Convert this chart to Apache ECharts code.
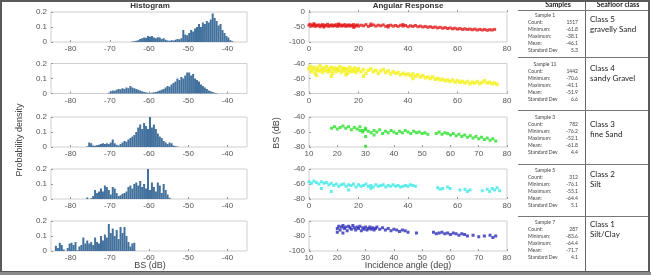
<!DOCTYPE html>
<html>
<head>
<meta charset="utf-8">
<script src="https://cdn.jsdelivr.net/npm/echarts@6/dist/echarts.min.js"></script>
<style>
html, body { margin: 0; padding: 0; background: #fff; }
#chart { width: 651px; height: 275px; }
</style>
</head>
<body>
<div id="chart"></div>
<script>
// histogram densities, 0.5 dB bins, first bin edge in binStart
let binStart = [-64.5, -70.5, -76, -76, -84];
let hist1 = [0.003, 0.005, 0.008, 0.012, 0.02, 0.025, 0.03, 0.028, 0.04, 0.035, 0.04, 0.03, 0.025, 0.032,
  0.03, 0.02, 0.025, 0.015, 0.01, 0.008, 0.012, 0.01, 0.015, 0.02, 0.018, 0.025, 0.08, 0.05, 0.045, 0.06,
  0.08, 0.07, 0.09, 0.1, 0.12, 0.1, 0.13, 0.12, 0.14, 0.13, 0.15, 0.19, 0.16, 0.14, 0.11, 0.12, 0.08, 0.06,
  0.04, 0.03, 0.012, 0.005];
let hist2 = [0.005, 0.015, 0.02, 0.018, 0.025, 0.03, 0.028, 0.035, 0.03, 0.04, 0.035, 0.05, 0.04, 0.035,
  0.03, 0.025, 0.02, 0.015, 0.01, 0.008, 0.005, 0.004, 0.006, 0.008, 0.01, 0.015, 0.02, 0.025, 0.03, 0.04,
  0.05, 0.045, 0.06, 0.07, 0.08, 0.1, 0.09, 0.11, 0.1, 0.12, 0.14, 0.14, 0.12, 0.13, 0.1, 0.09, 0.08, 0.06,
  0.05, 0.04, 0.03, 0.02, 0.015, 0.01, 0.005, 0.003];
let hist3 = [0.004, 0.03, 0.025, 0.01, 0.008, 0.012, 0.015, 0.02, 0.025, 0.02, 0.025, 0.02, 0.03, 0.05,
  0.025, 0.015, 0.01, 0.02, 0.03, 0.04, 0.035, 0.05, 0.06, 0.07, 0.08, 0.1, 0.13, 0.15, 0.12, 0.16, 0.14,
  0.12, 0.2, 0.13, 0.15, 0.12, 0.09, 0.07, 0.06, 0.04, 0.03, 0.02, 0.03, 0.025, 0.01, 0.005, 0.003];
let hist4 = [0.01, 0, 0.005, 0.02, 0.06, 0.04, 0.05, 0.07, 0.05, 0.09, 0.08, 0.06, 0.03, 0.08, 0.07, 0.04,
  0.02, 0.025, 0.035, 0.04, 0.05, 0.08, 0.09, 0.07, 0.1, 0.11, 0.09, 0.12, 0.08, 0.1, 0.07, 0.2, 0.06, 0.11,
  0.08, 0.05, 0.11, 0.09, 0.04, 0.1, 0.06, 0.03, 0.008];
let hist5 = [0.035, 0.02, 0.055, 0.04, 0.01, 0, 0.02, 0.05, 0.055, 0.04, 0.06, 0.005, 0.03, 0.04, 0.09,
  0.05, 0.07, 0.05, 0.06, 0.04, 0.09, 0.06, 0.05, 0.1, 0.07, 0.11, 0.09, 0.18, 0.12, 0.15, 0.1, 0.14, 0.08,
  0.16, 0.12, 0.16, 0.1, 0.06, 0.03, 0.05, 0.055];
let histTicks = [-80, -70, -60, -50, -40];

// angular response samples [incidence angle, BS]
let redPts = [[0,-44],[0.5,-41],[1,-47],[1.5,-45],[2,-42],[2.5,-48],[3,-44],[3.5,-46],[4,-43],[4.5,-49],
  [5,-45],[5.5,-42],[6,-47],[6.5,-44],[7,-46],[7.5,-41],[8,-48],[8.5,-45],[9,-43],[9.5,-47],[10,-44],
  [10.5,-46],[11,-42],[11.5,-48],[12,-45],[12.5,-43],[13,-47],[13.5,-44],[14,-46],[14.5,-42],[15,-48],
  [15.5,-45],[16,-43],[16.5,-47],[17,-44],[17.5,-46],[18,-42],[18.5,-49],[19,-45],[19.5,-43],[20,-47],
  [21,-44],[22,-46],[23,-42],[24,-48],[25,-45],[26,-43],[27,-47],[28,-44],[29,-46],[30,-43],[31,-48],
  [32,-45],[33,-44],[34,-47],[35,-45],[36,-48],[37,-44],[38,-47],[39,-45],[40,-49],[41,-46],[42,-48],
  [43,-45],[44,-49],[45,-47],[46,-50],[47,-48],[48,-51],[49,-49],[50,-52],[51,-50],[52,-53],[53,-51],
  [54,-54],[55,-52],[56,-55],[57,-53],[58,-56],[59,-54],[60,-57],[61,-55],[62,-58],[63,-56],[64,-58],
  [65,-57],[66,-59],[67,-57],[68,-60],[69,-58],[70,-60],[71,-58],[72,-61],[73,-59],[74,-60],[75,-58],
  [2,-39],[6,-50],[12,-40],[18,-51],[25,-40],[32,-50],[38,-42]];
let yellowPts = [[0,-47],[0.5,-44],[1,-51],[1.5,-48],[2,-45],[2.5,-53],[3,-49],[3.5,-46],[4,-50],[4.5,-43],
  [5,-48],[5.5,-52],[6,-46],[6.5,-49],[7,-44],[7.5,-51],[8,-47],[8.5,-50],[9,-45],[9.5,-53],[10,-48],
  [10.5,-46],[11,-51],[11.5,-47],[12,-49],[12.5,-44],[13,-52],[13.5,-48],[14,-46],[14.5,-50],[15,-47],
  [15.5,-53],[16,-49],[16.5,-45],[17,-51],[17.5,-48],[18,-50],[18.5,-46],[19,-52],[19.5,-49],[20,-47],
  [21,-51],[22,-48],[23,-53],[24,-49],[25,-47],[26,-51],[27,-49],[28,-53],[29,-50],[30,-48],[31,-52],
  [32,-50],[33,-54],[34,-51],[35,-53],[36,-52],[37,-55],[38,-53],[39,-55],[40,-54],[41,-56],[42,-54],
  [43,-57],[44,-55],[45,-58],[46,-56],[47,-59],[48,-58],[49,-60],[50,-58],[51,-61],[52,-60],[53,-62],
  [54,-61],[55,-63],[56,-62],[57,-64],[58,-62],[59,-65],[60,-63],[61,-65],[62,-64],[63,-66],[64,-64],
  [65,-67],[66,-65],[67,-66],[68,-64],[69,-67],[70,-65],[71,-63],[72,-66],[73,-65],[74,-67],[75,-66],
  [76,-68],[3,-56],[9,-57],[15,-55],[22,-57],[42,-60]];
let greenPts = [[18,-55],[19,-53],[20,-56],[21,-54],[22,-52],[23,-55],[24,-53],[25,-57],[26,-54],[27,-56],
  [28,-53],[29,-58],[30,-55],[28,-58],[29,-60],[30,-57],[31,-59],[32,-61],[33,-58],[34,-60],[35,-57],
  [36,-62],[37,-59],[38,-61],[39,-58],[40,-60],[41,-62],[42,-59],[43,-61],[44,-58],[45,-60],[46,-62],
  [47,-59],[48,-61],[49,-60],[50,-62],[51,-61],[55,-62],[56,-60],[57,-63],[58,-61],[59,-62],[60,-64],
  [61,-62],[62,-65],[63,-63],[64,-66],[65,-64],[66,-67],[67,-65],[68,-68],[69,-66],[70,-69],[71,-67],
  [72,-70],[73,-68],[74,-71],[75,-69],[76,-72],[30,-66],[33,-64],[30,-79],[52,-63]];
let cyanPts = [[0,-57],[1,-59],[2,-56],[3,-58],[4,-60],[5,-57],[6,-59],[7,-58],[8,-61],[9,-59],[10,-62],
  [11,-60],[12,-63],[13,-61],[14,-60],[15,-63],[16,-61],[17,-62],[18,-60],[19,-64],[20,-61],[21,-63],
  [22,-62],[23,-60],[24,-63],[25,-62],[26,-64],[27,-61],[28,-63],[29,-62],[30,-61],[31,-64],[32,-62],
  [33,-63],[34,-61],[35,-63],[36,-62],[37,-64],[38,-63],[39,-62],[40,-63],[41,-61],[42,-62],[43,-63],
  [5,-66],[9,-70],[16,-68],[25,-66],[52,-65],[53,-67],[54,-66],[56,-64],[57,-66],[61,-68],[63,-67],
  [64,-70],[65,-68],[70,-69],[72,-67],[73,-70],[74,-66],[75,-68],[76,-65],[77,-69]];
let bluePts = [[20,-70],[20.5,-67],[21,-72],[21.5,-68],[22,-66],[22.5,-70],[23,-68],[23.5,-73],[24,-67],
  [24.5,-69],[25,-71],[25.5,-66],[26,-69],[26.5,-72],[27,-68],[27.5,-70],[28,-67],[28.5,-73],[29,-69],
  [29.5,-71],[30,-68],[30.5,-72],[31,-70],[31.5,-68],[32,-71],[32.5,-69],[33,-72],[33.5,-70],[34,-68],
  [35,-71],[36,-69],[37,-72],[38,-70],[39,-73],[40,-71],[41,-72],[42,-74],[43,-72],[44,-73],[45,-75],
  [20,-75],[22,-76],[48,-76],[54,-75],[55,-77],[56,-76],[57,-75],[58,-77],[59,-76],[60,-78],[61,-76],
  [62,-77],[63,-79],[64,-77],[65,-78],[66,-80],[68,-79],[70,-81],[72,-80],[74,-79],[75,-82],[76,-80]];

// axis ranges of the angular response panels
let angMin = [0, 0, 10, 0, 10];
let angStep = [20, 20, 10, 20, 10];
let bsMin = [-100, -80, -80, -80, -100];
let bsMax = [0, -40, -40, -40, -60];
let bsStep = [50, 20, 20, 20, 20];

// table
let sampleNames = ['Sample 1', 'Sample 11', 'Sample 3', 'Sample 5', 'Sample 7'];
let statNames = ['Count:', 'Minimum:', 'Maximum:', 'Mean:', 'Standard Dev'];
let counts = ['1517', '1442', '782', '312', '287'];
let minima = ['-61.8', '-70.6', '-76.2', '-76.1', '-83.6'];
let maxima = ['-38.1', '-41.1', '-52.1', '-55.1', '-64.4'];
let means = ['-46.1', '-51.9', '-61.8', '-64.4', '-71.7'];
let stdDevs = ['5.3', '6.6', '4.4', '5.1', '4.1'];
let classNames = ['Class 5', 'Class 4', 'Class 3', 'Class 2', 'Class 1'];
let classDescs = ['gravelly Sand', 'sandy Gravel', 'fine Sand', 'Silt', 'Silt/Clay'];

let hists = [hist1, hist2, hist3, hist4, hist5];
let scatters = [redPts, yellowPts, greenPts, cyanPts, bluePts];
let dotColors = ['#e41a1c', '#f4f01c', '#2be02b', '#3fe8e8', '#2c2cb8'];
let dotSizes = [3, 3.5, 3, 3, 3];

let rowTop = [12, 63.5, 117, 169, 221];
let labelFont = 'Liberation Sans, Arial, sans-serif';
let grid = [], xAxis = [], yAxis = [], series = [];

for (let i = 0; i < 5; i++) {
  // histogram panel
  grid.push({ left: 51, width: 196, top: rowTop[i], height: 30, show: true,
    borderColor: '#cfcfcf', borderWidth: 1 });
  xAxis.push({
    type: 'value', gridIndex: 2 * i, min: -85, max: -35,
    splitLine: { show: false }, axisLine: { show: false },
    axisTick: { inside: true, length: 2, lineStyle: { color: '#999' }, customValues: histTicks },
    axisLabel: { fontSize: 8, color: '#555', margin: 3, fontFamily: labelFont, customValues: histTicks }
  });
  yAxis.push({
    type: 'value', gridIndex: 2 * i, min: 0, max: 0.2, interval: 0.1,
    splitLine: { show: false }, axisLine: { show: false },
    axisTick: { inside: true, length: 2, lineStyle: { color: '#999' } },
    axisLabel: { fontSize: 8, color: '#555', margin: 4, fontFamily: labelFont,
      formatter: v => v === 0 ? '0' : v.toFixed(1) }
  });
  series.push({
    type: 'bar', xAxisIndex: 2 * i, yAxisIndex: 2 * i, barWidth: 2, silent: true,
    itemStyle: { color: '#42719d' },
    data: hists[i].map((v, k) => [binStart[i] + k * 0.5 + 0.25, v])
  });

  // angular response panel
  grid.push({ left: 309, width: 198, top: rowTop[i], height: 30, show: true,
    borderColor: '#cfcfcf', borderWidth: 1 });
  xAxis.push({
    type: 'value', gridIndex: 2 * i + 1, min: angMin[i], max: 80, interval: angStep[i],
    splitLine: { show: false }, axisLine: { show: false },
    axisTick: { inside: true, length: 2, lineStyle: { color: '#999' } },
    axisLabel: { fontSize: 8, color: '#555', margin: 3, fontFamily: labelFont }
  });
  yAxis.push({
    type: 'value', gridIndex: 2 * i + 1, min: bsMin[i], max: bsMax[i], interval: bsStep[i],
    splitLine: { show: false }, axisLine: { show: false },
    axisTick: { inside: true, length: 2, lineStyle: { color: '#999' } },
    axisLabel: { fontSize: 8, color: '#555', margin: 4, fontFamily: labelFont }
  });
  series.push({
    type: 'scatter', xAxisIndex: 2 * i + 1, yAxisIndex: 2 * i + 1, silent: true,
    symbol: 'rect', symbolSize: dotSizes[i], itemStyle: { color: dotColors[i] },
    data: scatters[i]
  });
}

let graphic = [
  { type: 'rect', shape: { x: 1, y: 1, width: 648, height: 271 }, z: 100,
    style: { fill: null, stroke: '#5a5a5a', lineWidth: 2 } },
  { type: 'rect', shape: { x: 0, y: 272, width: 651, height: 3 }, z: 100, style: { fill: '#8a8a8a' } },
  { type: 'text', x: 150, y: 6, style: { text: 'Histogram', font: 'bold 8px ' + labelFont,
    fill: '#333', textAlign: 'center', textVerticalAlign: 'middle' } },
  { type: 'text', x: 408, y: 6, style: { text: 'Angular Response', font: 'bold 8px ' + labelFont,
    fill: '#333', textAlign: 'center', textVerticalAlign: 'middle' } },
  { type: 'text', x: 150, y: 266, style: { text: 'BS (dB)', font: '9px ' + labelFont,
    fill: '#444', textAlign: 'center', textVerticalAlign: 'middle' } },
  { type: 'text', x: 408, y: 266, style: { text: 'Incidence angle (deg)', font: '9px ' + labelFont,
    fill: '#444', textAlign: 'center', textVerticalAlign: 'middle' } },
  { type: 'text', x: 20, y: 140, rotation: Math.PI / 2, style: { text: 'Probability density',
    font: '9px ' + labelFont, fill: '#444', textAlign: 'center', textVerticalAlign: 'middle' } },
  { type: 'text', x: 277, y: 133, rotation: Math.PI / 2, style: { text: 'BS (dB)',
    font: '9px ' + labelFont, fill: '#444', textAlign: 'center', textVerticalAlign: 'middle' } },
  { type: 'text', x: 558, y: 5, style: { text: 'Samples', font: 'bold 7px Lato, sans-serif',
    fill: '#222', textAlign: 'center', textVerticalAlign: 'middle' } },
  { type: 'text', x: 618, y: 5, style: { text: 'Seafloor class', font: 'bold 7px Lato, sans-serif',
    fill: '#222', textAlign: 'center', textVerticalAlign: 'middle' } },
  { type: 'line', shape: { x1: 585.5, y1: 0, x2: 585.5, y2: 272 }, style: { stroke: '#666', lineWidth: 1 } }
];
[10.5, 57.5, 110.5, 164.5, 216.5].forEach(function(y) {
  graphic.push({ type: 'line', shape: { x1: 518, y1: y, x2: 650, y2: y },
    style: { stroke: '#777', lineWidth: 1 } });
});

let blockTop = [15, 64, 117, 170, 222];
let classTop = [19, 68, 124, 174, 224];
for (let i = 0; i < 5; i++) {
  let vals = [counts[i], minima[i], maxima[i], means[i], stdDevs[i]];
  graphic.push({ type: 'text', x: 545, y: blockTop[i], style: { text: sampleNames[i],
    font: '5px Lato, sans-serif', fill: '#444', textAlign: 'center', textVerticalAlign: 'middle' } });
  for (let k = 0; k < 5; k++) {
    let y = blockTop[i] + 7 + 7 * k;
    graphic.push({ type: 'text', x: 528, y: y, style: { text: statNames[k],
      font: '5px Lato, sans-serif', fill: '#444', textAlign: 'left', textVerticalAlign: 'middle' } });
    graphic.push({ type: 'text', x: 578, y: y, style: { text: vals[k],
      font: '5px Lato, sans-serif', fill: '#444', textAlign: 'right', textVerticalAlign: 'middle' } });
  }
  graphic.push({ type: 'text', x: 590, y: classTop[i], style: { text: classNames[i],
    font: '8px Lato, sans-serif', fill: '#222', textAlign: 'left', textVerticalAlign: 'middle' } });
  graphic.push({ type: 'text', x: 590, y: classTop[i] + 10, style: { text: classDescs[i],
    font: '8px Lato, sans-serif', fill: '#222', textAlign: 'left', textVerticalAlign: 'middle' } });
}

let chart = echarts.init(document.getElementById('chart'), null, { renderer: 'canvas' });
chart.setOption({
  animation: false,
  backgroundColor: '#fff',
  grid: grid,
  xAxis: xAxis,
  yAxis: yAxis,
  series: series,
  graphic: graphic
});
</script>
</body>
</html>
